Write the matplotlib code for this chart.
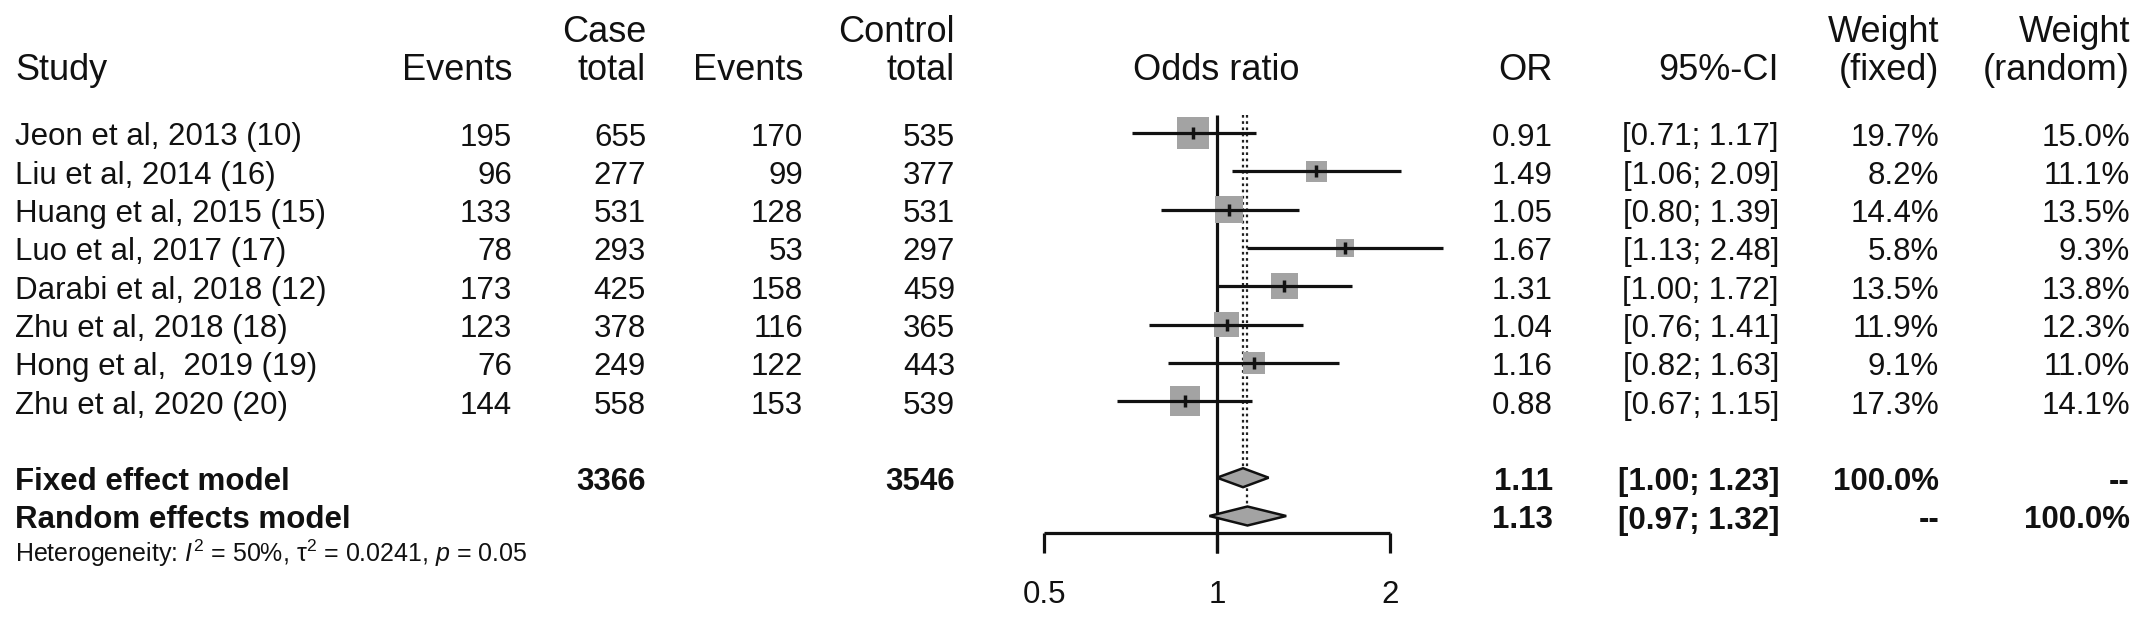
import numpy as np
import matplotlib
matplotlib.use("Agg")
import matplotlib.pyplot as plt
from matplotlib.patches import Polygon

plt.rcParams['font.family'] = ['Liberation Sans', 'DejaVu Sans']
plt.rcParams['mathtext.fontset'] = 'custom'
plt.rcParams['mathtext.rm'] = 'Liberation Sans'
plt.rcParams['mathtext.it'] = 'Liberation Sans:italic'
plt.rcParams['mathtext.bf'] = 'Liberation Sans:bold'

# ---------------- data ----------------
studies = ["Jeon et al, 2013 (10)", "Liu et al, 2014 (16)", "Huang et al, 2015 (15)",
           "Luo et al, 2017 (17)", "Darabi et al, 2018 (12)", "Zhu et al, 2018 (18)",
           "Hong et al,  2019 (19)", "Zhu et al, 2020 (20)"]
case_events = [195, 96, 133, 78, 173, 123, 76, 144]
case_total = [655, 277, 531, 293, 425, 378, 249, 558]
ctrl_events = [170, 99, 128, 53, 158, 116, 122, 153]
ctrl_total = [535, 377, 531, 297, 459, 365, 443, 539]
odds_ratio = [0.91, 1.49, 1.05, 1.67, 1.31, 1.04, 1.16, 0.88]
ci_low = [0.71, 1.06, 0.80, 1.13, 1.00, 0.76, 0.82, 0.67]
ci_high = [1.17, 2.09, 1.39, 2.48, 1.72, 1.41, 1.63, 1.15]
w_fixed = [19.7, 8.2, 14.4, 5.8, 13.5, 11.9, 9.1, 17.3]
w_random = [15.0, 11.1, 13.5, 9.3, 13.8, 12.3, 11.0, 14.1]

pooled_labels = ["Fixed effect model", "Random effects model"]
pooled_case_total = ["3366", ""]
pooled_ctrl_total = ["3546", ""]
pooled_or = [1.11, 1.13]
pooled_lo = [1.00, 0.97]
pooled_hi = [1.23, 1.32]
pooled_w_fixed = ["100.0%", "--"]
pooled_w_random = ["--", "100.0%"]

het_text = r"Heterogeneity: $I^2$ = 50%, τ$^2$ = 0.0241, $p$ = 0.05"
x_ticks = [0.5, 1, 2]
tick_labels = ["0.5", "1", "2"]

# ---------------- layout ----------------
W, H = 2150, 620
fig = plt.figure(figsize=(W / 100, H / 100), dpi=100)
ax = fig.add_axes([0, 0, 1, 1])
ax.set_xlim(0, W)
ax.set_ylim(H, 0)
ax.axis('off')

ROW0, DY = 133.0, 38.3
def row_y(i):
    return ROW0 + DY * i

TXT = '#111111'
FS = 22.5
HFS = 26
BASE_OFF = 12.5

def txt(x, y, s, ha='right', bold=False, size=FS):
    ax.text(x, y, s, ha=ha, va='baseline', fontsize=size, color=TXT,
            fontweight='bold' if bold else 'normal')

# column right edges
X_STUDY = 15
X_CE, X_CT, X_KE, X_KT = 512, 646, 803, 955
X_OR, X_CI, X_WF, X_WR = 1553, 1779, 1939, 2130
X_OR_HEAD = 1216

# headers
H1, H2 = 42, 80
txt(X_STUDY, H2, "Study", ha='left', size=HFS)
txt(X_CE, H2, "Events", size=HFS)
txt(X_CT, H1, "Case", size=HFS)
txt(X_CT, H2, "total", size=HFS)
txt(X_KE, H2, "Events", size=HFS)
txt(X_KT, H1, "Control", size=HFS)
txt(X_KT, H2, "total", size=HFS)
txt(X_OR_HEAD, H2, "Odds ratio", ha='center', size=HFS)
txt(X_OR, H2, "OR", size=HFS)
txt(X_CI, H2, "95%-CI", size=HFS)
txt(X_WF, H1, "Weight", size=HFS)
txt(X_WF, H2, "(fixed)", size=HFS)
txt(X_WR, H1, "Weight", size=HFS)
txt(X_WR, H2, "(random)", size=HFS)

# study rows
for i, name in enumerate(studies):
    y = row_y(i) + BASE_OFF
    txt(X_STUDY, y, name, ha='left')
    txt(X_CE, y, f"{case_events[i]}")
    txt(X_CT, y, f"{case_total[i]}")
    txt(X_KE, y, f"{ctrl_events[i]}")
    txt(X_KT, y, f"{ctrl_total[i]}")
    txt(X_OR, y, f"{odds_ratio[i]:.2f}")
    txt(X_CI, y, f"[{ci_low[i]:.2f}; {ci_high[i]:.2f}]")
    txt(X_WF, y, f"{w_fixed[i]:.1f}%")
    txt(X_WR, y, f"{w_random[i]:.1f}%")

# pooled rows
for j in range(2):
    y = row_y(9 + j) + BASE_OFF
    txt(X_STUDY, y, pooled_labels[j], ha='left', bold=True)
    if pooled_case_total[j]:
        txt(X_CT, y, pooled_case_total[j], bold=True)
    if pooled_ctrl_total[j]:
        txt(X_KT, y, pooled_ctrl_total[j], bold=True)
    txt(X_OR, y, f"{pooled_or[j]:.2f}", bold=True)
    txt(X_CI, y, f"[{pooled_lo[j]:.2f}; {pooled_hi[j]:.2f}]", bold=True)
    txt(X_WF, y, pooled_w_fixed[j], bold=True)
    txt(X_WR, y, pooled_w_random[j], bold=True)

txt(X_STUDY, 562, het_text, ha='left', size=18)

# ---------------- forest panel ----------------
X1_PX, PX_PER_LOG2 = 1217.0, 172.8
AX_L, AX_R = 990, 1480
fx = fig.add_axes([AX_L / W, 0, (AX_R - AX_L) / W, 1])
fx.set_xscale('log')
fx.set_xlim(2 ** ((AX_L - X1_PX) / PX_PER_LOG2), 2 ** ((AX_R - X1_PX) / PX_PER_LOG2))
fx.set_ylim(H, 0)
fx.axis('off')

LW = 2.3
GRAY = '#a3a3a3'
TOP = 115
AXIS_Y, TICK_Y = 533, 553
DH = 9.5

# reference line at 1 and pooled lines
fx.plot([1, 1], [TOP, TICK_Y], color='#111111', lw=LW, zorder=1, solid_capstyle='butt')
fx.plot([pooled_or[0]] * 2, [TOP, row_y(9) - DH], color='#222222', lw=1.6,
        linestyle=(0, (1.2, 1.6)), zorder=1)
fx.plot([pooled_or[1]] * 2, [TOP, row_y(10) - DH], color='#222222', lw=1.6,
        linestyle=(0, (1.2, 1.6)), zorder=1)

# studies
ys = np.array([row_y(i) for i in range(len(studies))])
side_px = 32.0 * np.sqrt(np.array(w_fixed) / max(w_fixed))
fx.scatter(odds_ratio, ys, s=(side_px * 0.72) ** 2, marker='s', color=GRAY,
           linewidths=0, zorder=2)
for i in range(len(studies)):
    fx.plot([ci_low[i], ci_high[i]], [ys[i], ys[i]], color='#111111', lw=LW,
            zorder=3, solid_capstyle='butt')
fx.plot(odds_ratio, ys, linestyle='none', marker='|', markersize=8,
        markeredgewidth=2.5, color='#111111', zorder=4)

# diamonds
for j in range(2):
    yc = row_y(9 + j)
    poly = Polygon([(pooled_lo[j], yc), (pooled_or[j], yc - DH), (pooled_hi[j], yc),
                    (pooled_or[j], yc + DH)], closed=True, facecolor=GRAY,
                   edgecolor='#111111', lw=1.8, zorder=5)
    fx.add_patch(poly)

# axis
fx.plot([x_ticks[0], x_ticks[-1]], [AXIS_Y, AXIS_Y], color='#111111', lw=LW,
        zorder=1, solid_capstyle='butt')
for t, lab in zip(x_ticks, tick_labels):
    fx.plot([t, t], [AXIS_Y, TICK_Y], color='#111111', lw=LW, zorder=1,
            solid_capstyle='butt')
    fx.text(t, 603, lab, ha='center', va='baseline', fontsize=FS, color=TXT)

fig.savefig("out.png", dpi=100)
